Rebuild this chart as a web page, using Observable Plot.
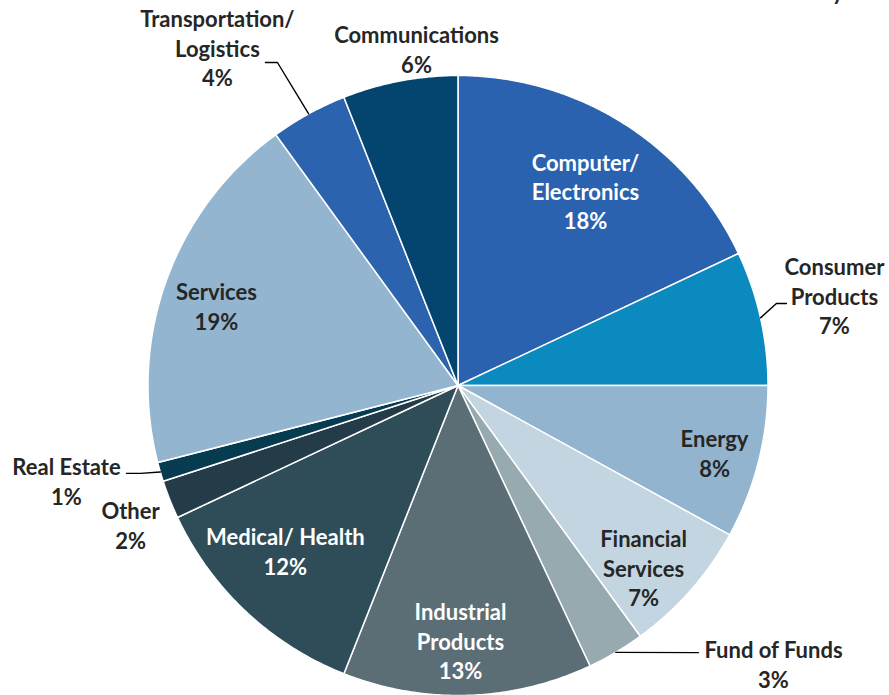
<!DOCTYPE html>
<html><head><meta charset="utf-8">
<script src="https://cdn.jsdelivr.net/npm/d3@7"></script>
<script src="https://cdn.jsdelivr.net/npm/@observablehq/plot@0.6"></script>
<style>html,body{margin:0;padding:0;background:#fff}</style>
</head><body><div id="chart"></div>
<script>
// ---- data ----
const categories = ["Computer/Electronics","Consumer Products","Energy","Financial Services","Fund of Funds","Industrial Products","Medical/ Health","Other","Real Estate","Services","Transportation/Logistics","Communications"];
const values = [18,7,8,7,3,13,12,2,1,19,4,6];
const labelLines = [["Computer/","Electronics"],["Consumer","Products"],["Energy"],["Financial","Services"],["Fund of Funds"],["Industrial","Products"],["Medical/ Health"],["Other"],["Real Estate"],["Services"],["Transportation/","Logistics"],["Communications"]];
const titleText = "Industry";

// ---- styles / layout ----
const colors = ["#2A62AF","#0A8ABE","#92B4CE","#C3D5E0","#96AAB0","#5B6E75","#2E4D58","#233C48","#073B50","#93B5CF","#2C63AF","#03456F"];
const labelColors = ["#ffffff","#262626","#262626","#262626","#262626","#ffffff","#ffffff","#262626","#262626","#262626","#262626","#262626"];
const W = 889, H = 695, CX = 457.5, CY = 385, R = 310;
// label placement: [angle shift in degrees from slice middle, radius factor]
const labelPolar = [[1.05,0.746],[-0.56,1.247],[0.66,0.857],[3.36,0.843],[-17.8,1.361],[1.24,0.829],[2.73,0.775],[-1.7,1.150],[2.3,1.301],[-1.9,0.819],[-6.8,1.333],[3.74,1.089]];
// leader lines: index -> [elbow offset, end offset] relative to label centre
const leaders = {1:[[-58,6],[-48,6]], 4:[[-75,-13],[-75,-13]], 8:[[74,-9],[60,-9]], 10:[[60,13],[48,13]]};

const arcs = d3.pie().sort(null).value(d => d)(values);
const pt = (a, r) => ({x: CX + r * Math.sin(a), y: CY - r * Math.cos(a)});

const slicePts = [];
arcs.forEach((a, i) => {
  slicePts.push({k: i, x: CX, y: CY, c: colors[i]});
  const n = Math.max(2, Math.ceil((a.endAngle - a.startAngle) / (Math.PI / 360)));
  for (let j = 0; j <= n; j++) {
    const p = pt(a.startAngle + (a.endAngle - a.startAngle) * j / n, R);
    slicePts.push({k: i, x: p.x, y: p.y, c: colors[i]});
  }
  slicePts.push({k: i, x: CX, y: CY, c: colors[i]});
});

const labelData = arcs.map((a, i) => {
  const mid = (a.startAngle + a.endAngle) / 2 + labelPolar[i][0] * Math.PI / 180;
  const p = pt(mid, labelPolar[i][1] * R);
  return {x: p.x, y: p.y, text: labelLines[i].concat([values[i] + "%"]).join("\n"), fill: labelColors[i]};
});

const leaderPts = [];
Object.entries(leaders).forEach(([k, offs]) => {
  const i = +k, a = arcs[i];
  const s = pt((a.startAngle + a.endAngle) / 2, R);
  const L = labelData[i];
  leaderPts.push({k: i, x: s.x, y: s.y});
  offs.forEach(o => leaderPts.push({k: i, x: L.x + o[0], y: L.y + o[1]}));
});

const chart = Plot.plot({
  width: W, height: H, margin: 0,
  x: {domain: [0, W], axis: null},
  y: {domain: [H, 0], axis: null},
  style: {fontFamily: "Lato, 'Open Sans', sans-serif", background: "#fff"},
  marks: [
    Plot.line(slicePts, {x: "x", y: "y", z: "k", fill: "c", stroke: "#fff", strokeWidth: 1.5, curve: "linear"}),
    Plot.line(leaderPts, {x: "x", y: "y", z: "k", stroke: "#000", strokeWidth: 1.4, curve: "linear"}),
    Plot.text(labelData, {x: "x", y: "y", dy: -2, text: "text", fill: "fill", fontSize: 22, fontWeight: "bold", lineHeight: 1.34}),
    Plot.text([titleText], {text: d => d, frameAnchor: "top-right", dx: -46, dy: -1, textAnchor: "end", lineAnchor: "bottom", fontSize: 22, fontWeight: "bold", fill: "#262626"})
  ]
});
document.getElementById("chart").appendChild(chart);
</script>
</body></html>
